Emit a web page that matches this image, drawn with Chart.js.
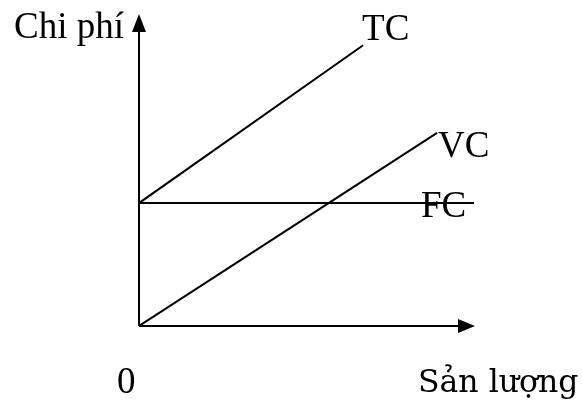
<!DOCTYPE html>
<html>
<head>
<meta charset="utf-8">
<script src="https://cdn.jsdelivr.net/npm/chart.js@4/dist/chart.umd.min.js"></script>
<style>
  html, body { margin: 0; padding: 0; background: #fff; }
  canvas { display: block; }
</style>
</head>
<body>
<canvas id="costChart" width="582" height="401"></canvas>
<script>
// Data (arbitrary units)
const seriesNames = ['TC', 'VC', 'FC'];
const tcPoints = [{ x: 0, y: 3.94 }, { x: 6.67, y: 9.0 }];
const vcPoints = [{ x: 0, y: 0 }, { x: 8.87, y: 6.19 }];
const fcPoints = [{ x: 0, y: 3.94 }, { x: 9.97, y: 3.94 }];
const axisMax = { x: 10, y: 10 };
const yTitle = 'Chi phí';
const xTitle = 'Sản lượng';
const originLabel = '0';

const serif = '37px "Liberation Serif", "Times New Roman", serif';

// Axes with arrows and the text labels
const diagramPlugin = {
    id: 'diagram',
    afterDatasetsDraw(chart) {
        const ctx = chart.ctx;
        const xs = chart.scales.x;
        const ys = chart.scales.y;
        const x0 = xs.getPixelForValue(0);
        const y0 = ys.getPixelForValue(0);
        const xEnd = xs.getPixelForValue(axisMax.x);
        const yEnd = ys.getPixelForValue(axisMax.y);

        ctx.save();
        ctx.strokeStyle = '#000';
        ctx.fillStyle = '#000';
        ctx.lineWidth = 2;

        // y axis
        ctx.beginPath();
        ctx.moveTo(x0, y0);
        ctx.lineTo(x0, yEnd + 10);
        ctx.stroke();
        ctx.beginPath();
        ctx.moveTo(x0, yEnd);
        ctx.lineTo(x0 - 7, yEnd + 18);
        ctx.lineTo(x0 + 7, yEnd + 18);
        ctx.closePath();
        ctx.fill();

        // x axis
        ctx.beginPath();
        ctx.moveTo(x0, y0);
        ctx.lineTo(xEnd - 10, y0);
        ctx.stroke();
        ctx.beginPath();
        ctx.moveTo(xEnd, y0);
        ctx.lineTo(xEnd - 17, y0 - 7);
        ctx.lineTo(xEnd - 17, y0 + 7);
        ctx.closePath();
        ctx.fill();

        // labels
        ctx.textBaseline = 'alphabetic';
        ctx.textAlign = 'left';
        ctx.font = serif;
        ctx.fillText(yTitle, x0 - 125, 38);
        ctx.fillText(originLabel, x0 - 22, y0 + 67);

        const ends = [tcPoints[1], vcPoints[1], fcPoints[1]];
        const offsets = [[-1, -5], [1, 24], [-53, 14]];
        seriesNames.forEach(function(name, i) {
            const px = xs.getPixelForValue(ends[i].x);
            const py = ys.getPixelForValue(ends[i].y);
            ctx.fillText(name, px + offsets[i][0], py + offsets[i][1]);
        });

        ctx.font = '31.5px "DejaVu Serif", serif';
        ctx.fillText(xTitle, xEnd - 57, y0 + 66);
        ctx.restore();
    }
};

const lineStyle = {
    borderColor: '#000',
    borderWidth: 2,
    pointRadius: 0,
    showLine: true,
    fill: false,
    tension: 0
};

const chart = new Chart(document.getElementById('costChart').getContext('2d'), {
    type: 'scatter',
    data: {
        datasets: [
            Object.assign({ label: seriesNames[0], data: tcPoints }, lineStyle),
            Object.assign({ label: seriesNames[1], data: vcPoints }, lineStyle),
            Object.assign({ label: seriesNames[2], data: fcPoints }, lineStyle)
        ]
    },
    options: {
        responsive: false,
        animation: false,
        devicePixelRatio: 1,
        layout: {
            padding: { left: 139, right: 107, top: 14, bottom: 75 }
        },
        plugins: {
            legend: { display: false },
            tooltip: { enabled: false }
        },
        scales: {
            x: { type: 'linear', min: 0, max: axisMax.x, display: false },
            y: { type: 'linear', min: 0, max: axisMax.y, display: false }
        }
    },
    plugins: [diagramPlugin]
});
</script>
</body>
</html>
